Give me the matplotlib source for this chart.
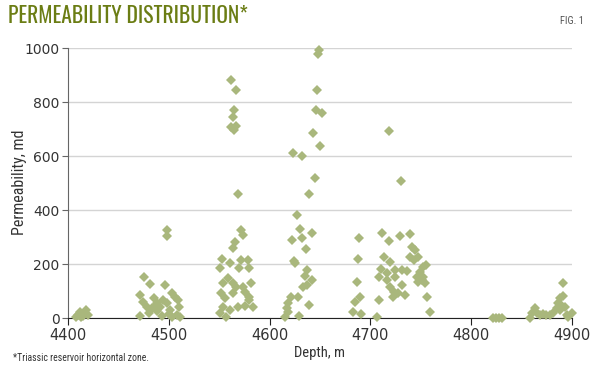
import matplotlib
matplotlib.use("Agg")
import matplotlib.pyplot as plt

# depth (m) / permeability (md), grouped by cluster
depth_a = [4408, 4410, 4412, 4413, 4415, 4416, 4418, 4420]
perm_a = [5, 12, 22, 3, 8, 15, 30, 10]

depth_b = [4471, 4471, 4474, 4475, 4478, 4480, 4481, 4483, 4485, 4488, 4488, 4491, 4493,
           4496, 4498, 4498, 4498, 4501, 4503, 4503, 4506, 4508, 4509, 4510, 4511, 4486, 4494, 4500]
perm_b = [7, 85, 60, 153, 40, 20, 126, 37, 74, 55, 25, 42, 7,
          122, 326, 304, 55, 30, 91, 5, 79, 11, 67, 42, 4, 45, 65, 15]

depth_c = [4562, 4567, 4565, 4564, 4562, 4567, 4565, 4569, 4572, 4574, 4566, 4564, 4553,
           4561, 4551, 4572, 4579, 4570, 4580, 4559, 4564, 4567, 4554, 4574, 4582, 4552,
           4576, 4580, 4556, 4584, 4569, 4576, 4561, 4554, 4551, 4557, 4580, 4564]
perm_c = [881, 844, 770, 743, 706, 711, 696, 459, 326, 307, 283, 258, 217,
          202, 184, 215, 215, 184, 184, 147, 128, 116, 128, 116, 128, 91,
          97, 79, 73, 42, 42, 45, 30, 42, 17, 4, 67, 91]

depth_d = [4649, 4648, 4647, 4646, 4652, 4643, 4650, 4623, 4632, 4645, 4639, 4627, 4630,
           4642, 4622, 4632, 4636, 4624, 4625, 4637, 4635, 4642, 4637, 4633, 4621, 4628,
           4618, 4617, 4639, 4615, 4629, 4618]
perm_d = [993, 978, 844, 770, 758, 686, 637, 612, 600, 518, 459, 381, 328,
          314, 289, 295, 254, 212, 205, 178, 155, 141, 122, 114, 79, 77,
          54, 36, 48, 5, 7, 24]

depth_e = [4689, 4688, 4687, 4690, 4685, 4683, 4691, 4707, 4709, 4718, 4730, 4712, 4718,
           4729, 4739, 4713, 4719, 4711, 4724, 4731, 4736, 4741, 4744, 4739, 4747, 4743,
           4752, 4755, 4749, 4709, 4716, 4724, 4719, 4723, 4731, 4734, 4722, 4751, 4754,
           4756, 4759, 4752, 4747, 4727, 4716, 4746]
perm_e = [295, 217, 135, 79, 60, 23, 15, 5, 67, 693, 509, 314, 286,
          304, 310, 225, 209, 180, 178, 178, 175, 264, 252, 227, 227, 215,
          190, 196, 172, 153, 141, 153, 116, 97, 122, 85, 79, 141, 128,
          79, 21, 153, 135, 91, 165, 153]

depth_f = [4822, 4825, 4828, 4831]
perm_f = [0, 0, 0, 0]

depth_g = [4858, 4860, 4863, 4865, 4868, 4871, 4874, 4878, 4881, 4885, 4886, 4888, 4891,
           4891, 4893, 4895, 4900, 4896, 4889, 4888]
perm_g = [0, 20, 36, 20, 11, 15, 11, 11, 17, 36, 54, 73, 81,
          131, 42, 11, 17, 5, 48, 30]

depth = depth_a + depth_b + depth_c + depth_d + depth_e + depth_f + depth_g
perm = perm_a + perm_b + perm_c + perm_d + perm_e + perm_f + perm_g

narrow = ['Oswald', 'Roboto Condensed', 'Anton', 'DejaVu Sans']
narrow_text = ['Roboto Condensed', 'Oswald', 'DejaVu Sans']

fig = plt.figure(figsize=(6, 3.66), dpi=100)
ax = fig.add_axes([68 / 600, 1 - 318 / 366, 504 / 600, 270 / 366])

ax.plot(depth, perm, linestyle='none', marker='D', ms=4.8, color='#a9b77c',
        markeredgewidth=0, clip_on=False, zorder=3)

ax.set_xlim(4400, 4900)
ax.set_ylim(0, 1000)
ax.set_xticks([4400, 4500, 4600, 4700, 4800, 4900])
ax.set_yticks([0, 200, 400, 600, 800, 1000])
ax.yaxis.grid(True, color='#d4d4d4', linewidth=1)
ax.set_axisbelow(True)
for s in ['top', 'right']:
    ax.spines[s].set_visible(False)
ax.spines['left'].set_color('#666666')
ax.spines['bottom'].set_color('#222222')
ax.tick_params(axis='y', length=4, color='#666666', labelsize=10, labelcolor='#333333', pad=2)
ax.tick_params(axis='x', length=5, color='#222222', labelsize=10.5, labelcolor='#333333', pad=2)

fig.text(320 / 600, 1 - 353 / 366, 'Depth, m', ha='center', va='center', fontsize=10.5,
         color='#333333', family=narrow_text)
fig.text(20 / 600, 1 - 182 / 366, 'Permeability, md', ha='center', va='center',
         rotation=90, fontsize=11.5, color='#333333', family=narrow_text)

fig.text(8 / 600, 1 - 16 / 366, 'PERMEABILITY DISTRIBUTION*', ha='left', va='center',
         fontsize=15.5, fontweight='bold', color='#6b7d14', family=narrow)
fig.text(584 / 600, 1 - 21 / 366, 'FIG. 1', ha='right', va='center',
         fontsize=7.5, color='#555555', family=narrow_text)
fig.text(13 / 600, 1 - 358 / 366, '*Triassic reservoir horizontal zone.', ha='left', va='center',
         fontsize=7, color='#333333', family=narrow_text)

fig.savefig('out.png', dpi=100)
